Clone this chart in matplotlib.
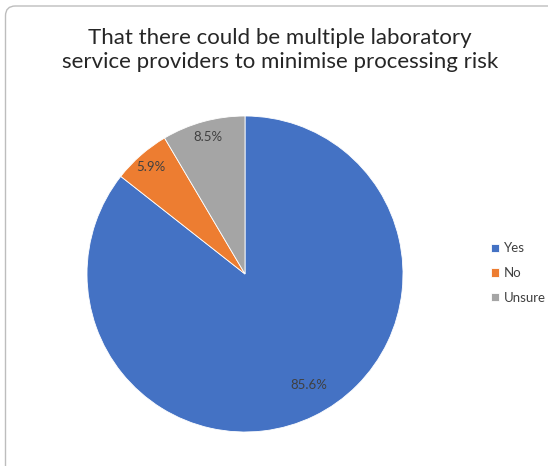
import numpy as np
import matplotlib
matplotlib.use("Agg")
import matplotlib.pyplot as plt
from matplotlib.patches import FancyBboxPatch

# Survey answers
categories = ["Yes", "No", "Unsure"]
shares = [85.6, 5.9, 8.5]
colors = ["#4472C4", "#ED7D31", "#A5A5A5"]
title = "That there could be multiple laboratory\nservice providers to minimise processing risk"

plt.rcParams["font.family"] = ["Lato", "DejaVu Sans"]

W, H = 548, 466
fig = plt.figure(figsize=(W / 100, H / 100), dpi=100)

# rounded chart frame (open to the right / bottom)
frame = FancyBboxPatch((5.5 / W, -20 / H), 600 / W, (H - 6 + 20) / H,
                       boxstyle="round,pad=0,rounding_size=0.018",
                       transform=fig.transFigure, facecolor="none",
                       edgecolor="#BDBDBD", linewidth=1.0, mutation_aspect=W / H,
                       zorder=-1)
fig.patches.append(frame)

fig.text(280 / W, 1 - 50 / H, title, ha="center", va="center",
         fontsize=16, color="#262626", linespacing=1.2)

# pie area
cx, cy, r = 245, 274, 158
ax = fig.add_axes([(cx - r) / W, (H - cy - r) / H, 2 * r / W, 2 * r / H])
wedges, _ = ax.pie(shares, colors=colors, startangle=90, counterclock=False,
                   wedgeprops=dict(edgecolor="white", linewidth=0.6))
ax.set_xlim(-1, 1)
ax.set_ylim(-1, 1)
ax.set_aspect("equal")

# percentage labels placed along each slice's middle angle
label_dist = [0.81, 0.9, 0.9]
label_shift = [4.0, 0.0, 0.0]   # small angular nudge, degrees
for w, val, d, s in zip(wedges, shares, label_dist, label_shift):
    mid = np.deg2rad((w.theta1 + w.theta2) / 2 + s)
    ax.text(d * np.cos(mid), d * np.sin(mid), f"{val:.1f}%",
            ha="center", va="center", fontsize=9.5, color="#404040")

fig.legend(wedges, categories, loc="center left",
           bbox_to_anchor=(479 / W, 1 - 273 / H),
           frameon=False, fontsize=9.5, handlelength=0.6, handleheight=0.6,
           handletextpad=0.4, labelspacing=0.95, labelcolor="#404040")

fig.savefig("out.png", dpi=100)
